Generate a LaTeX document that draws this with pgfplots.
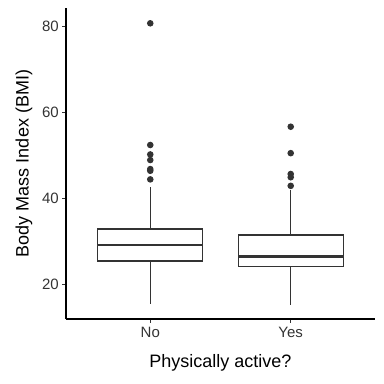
\documentclass[border=0pt]{standalone}
\usepackage{fontspec}
\setmainfont{Liberation Sans}
\usepackage{pgfplots}
\pgfplotsset{compat=1.18}
\usepgfplotslibrary{statistics}
\definecolor{dg}{HTML}{333333}
\definecolor{tg}{HTML}{333333}
\begin{document}
\begin{tikzpicture}
\useasboundingbox (-66pt,-65pt) rectangle (318pt,319pt);
\begin{axis}[
  at={(0,0)}, anchor=south west,
  scale only axis, width=309pt, height=311pt,
  xmin=0.4, xmax=2.6, ymin=11.93, ymax=84.26,
  axis x line*=bottom, axis y line*=left,
  axis line style={-, line width=1.1pt, black},
  xtick={1,2}, xticklabels={No,Yes},
  ytick={20,40,60,80},
  tick align=outside, major tick length=3.7pt,
  tick style={line width=1.1pt, dg},
  /pgf/number format/assume math mode=true,
  ticklabel style={font=\fontsize{15}{18}\selectfont, text=tg},
  xlabel={Physically active?}, ylabel={Body Mass Index (BMI)},
  label style={font=\fontsize{18}{21}\selectfont},
  xlabel style={at={(axis description cs:0.5,-0.1415)}, anchor=center},
  ylabel style={at={(axis description cs:-0.136,0.5)}, anchor=center},
  xticklabel style={yshift=-1pt},
  clip=false,
  boxplot/draw direction=y,
  boxplot/every median/.style={line width=2.6pt},
  boxplot/whisker extend=0,
]
\addplot[boxplot prepared={median=29.14, upper quartile=32.86, lower quartile=25.42,
  upper whisker=42.7, lower whisker=15.35, draw position=1, box extend=0.75},
  draw=dg, fill=white, line width=1.1pt, solid,
  mark=*, mark size=2.7pt, mark options={fill=dg, draw=none}]
  coordinates {(0,80.7) (0,52.4) (0,50.2) (0,48.9) (0,46.8) (0,46.4) (0,44.4)};
\addplot[boxplot prepared={median=26.42, upper quartile=31.47, lower quartile=24.1,
  upper whisker=41.9, lower whisker=15.2, draw position=2, box extend=0.75},
  draw=dg, fill=white, line width=1.1pt, solid,
  mark=*, mark size=2.7pt, mark options={fill=dg, draw=none}]
  coordinates {(0,56.65) (0,50.5) (0,45.65) (0,44.9) (0,42.9)};
\end{axis}
\end{tikzpicture}
\end{document}
